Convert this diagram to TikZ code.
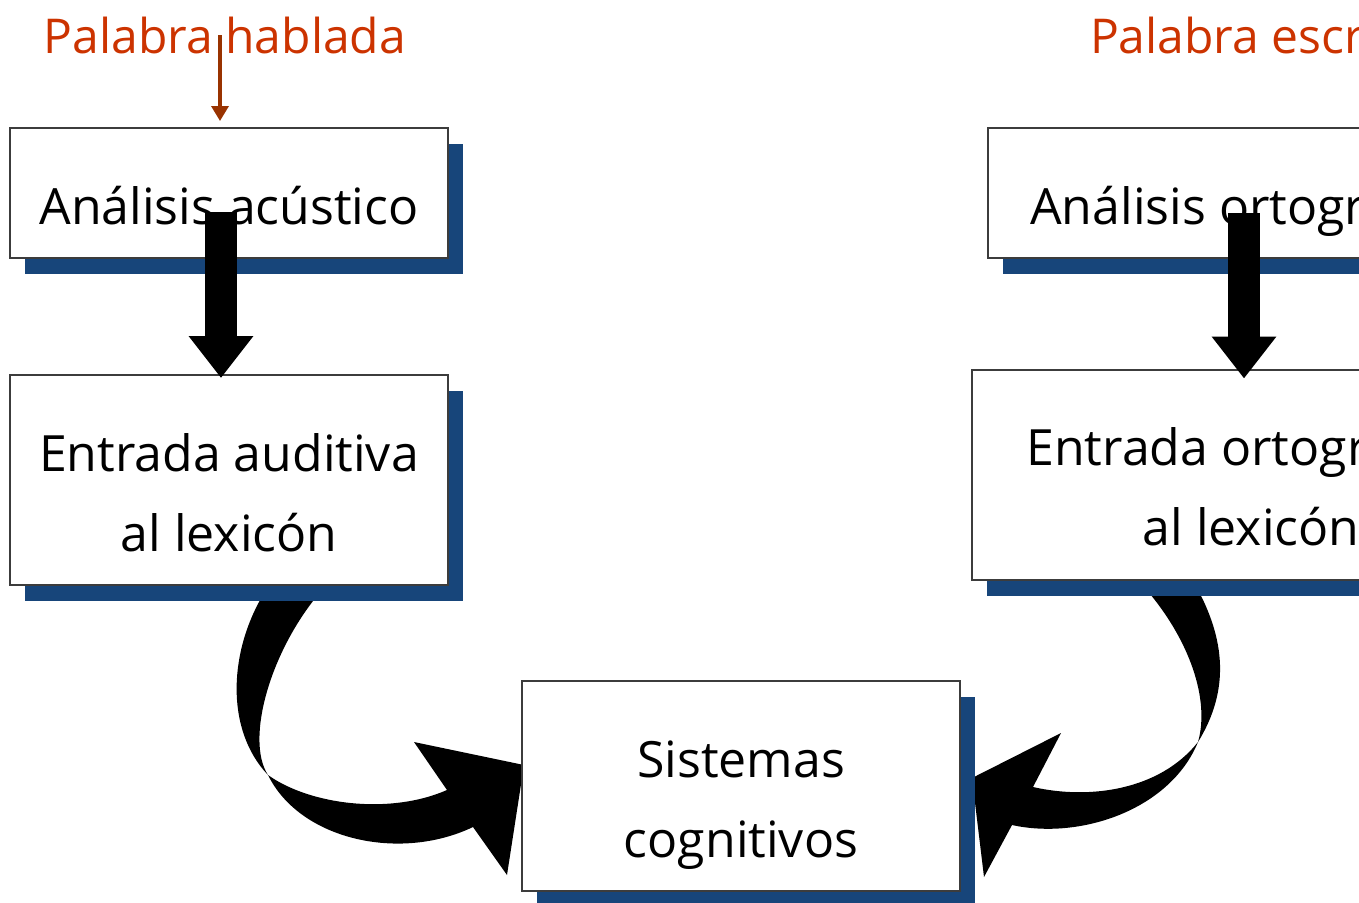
\documentclass[tikz,border=0pt]{standalone}
\usepackage{fontspec}
\setmainfont{Open Sans}
\usepackage{xcolor}
\usepackage{tikz}
\usetikzlibrary{shadows}
\usetikzlibrary{calc}
\usetikzlibrary{positioning}
\usetikzlibrary{arrows.meta}
\definecolor{labelred}{RGB}{204,51,0}
\definecolor{arrowred}{RGB}{153,51,0}
\definecolor{shadowblue}{RGB}{23,69,122}
\definecolor{boxline}{RGB}{60,60,60}

\begin{document}
\begin{tikzpicture}[
	x=0.5pt, y=-0.5pt,
	font=\fontsize{25}{40}\selectfont
]
\tikzset{
    box/.style = {rectangle, draw=boxline, line width=1pt, fill=white, align=center, inner sep=0pt,
		minimum width=219pt, minimum height=65pt, text height=31pt, text depth=0pt,
		drop shadow={shadow xshift=7.5pt, shadow yshift=-8pt, fill=shadowblue, opacity=1}},
		tallbox/.style = {box, minimum height=105pt, text height=71pt},
		toplabel/.style = {text=labelred, font=\fontsize{24}{30}\selectfont, anchor=base},
		bigarrow/.style = {line width=16pt, -{Triangle[width=31pt,length=21pt]}},
		thinarrow/.style = {draw=arrowred, line width=1.7pt, -{Triangle[width=8.5pt,length=7.5pt]}}
}
\useasboundingbox (0,0) rectangle (1359,902);
\clip (0,0) rectangle (1359,902);

\fill (322,590) .. controls (270,650) and (245,740) .. (268,775)
	.. controls (310,805) and (390,815) .. (447,790)
	-- (414,742) -- (524,765) -- (507,875) -- (473,827)
	.. controls (400,862) and (300,840) .. (268,775)
	.. controls (225,730) and (228,650) .. (266,590) -- cycle;
\fill (1145,588) .. controls (1190,640) and (1210,700) .. (1198,742)
	.. controls (1160,790) and (1090,800) .. (1033,787)
	-- (1061,733) -- (972,778) -- (984,877) -- (1012,825)
	.. controls (1080,840) and (1170,810) .. (1198,742)
	.. controls (1230,690) and (1225,640) .. (1197,588) -- cycle;

\node[box] (AA) at (229,193) {Análisis acústico};
\node[tallbox] (EA) at (229,480) {Entrada auditiva\\al lexicón};
\node[box, minimum width=265pt] (AO) at (1253,193) {Análisis ortográfico};
\node[tallbox, minimum width=279pt] (EO) at (1251,474.5) {Entrada ortográfica\\al lexicón};
\node[tallbox] (SC) at (741,786) {Sistemas\\cognitivos};

\node[toplabel] (PH) at (225,53) {Palabra hablada};
\node[toplabel, anchor=base west] (PE) at (1083,53) {Palabra escrita};

\coordinate (PT) at ([xshift=-4.5pt,yshift=3pt]AA.north);
\draw[thinarrow] (PH.center -| PT) -- (PT);

\coordinate (A1) at ([xshift=-4pt,yshift=-9.5pt]AA.center);
\coordinate (A2) at ([xshift=-4.5pt,yshift=-10pt]AO.center);
\draw[bigarrow] (A1) -- ($(A1 |- EA.north)+(0,4)$);
\draw[bigarrow] (A2) -- ($(A2 |- EO.north)+(0,10)$);
\end{tikzpicture}
\end{document}
